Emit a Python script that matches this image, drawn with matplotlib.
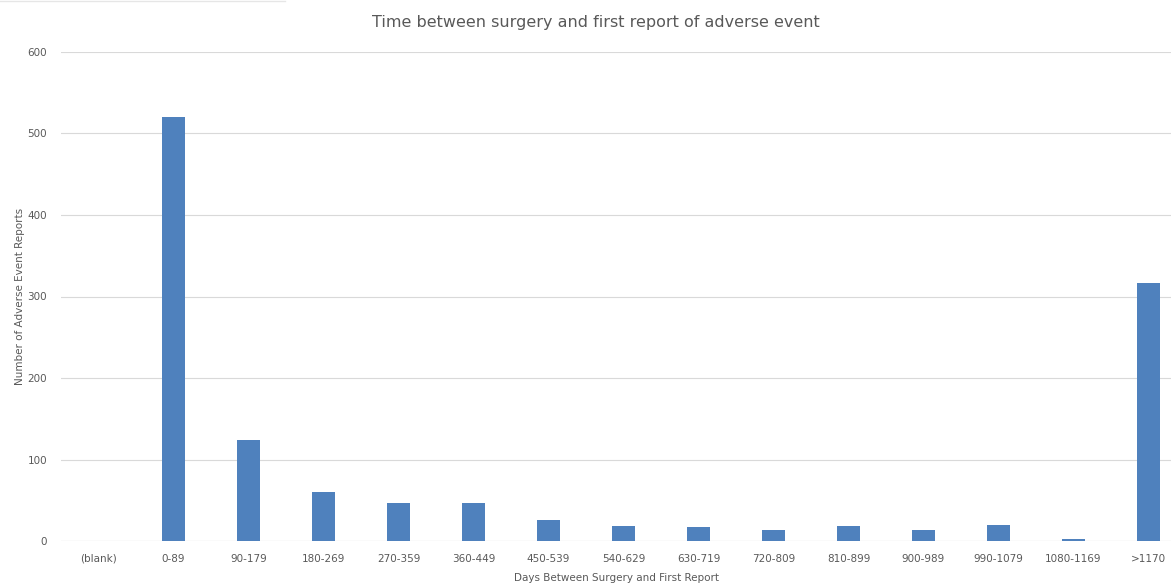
import matplotlib
matplotlib.use('Agg')

import numpy as np
import matplotlib.pyplot as plt

# data
categories = ['(blank)', '0-89', '90-179', '180-269', '270-359', '360-449',
              '450-539', '540-629', '630-719', '720-809', '810-899',
              '900-989', '990-1079', '1080-1169', '>1170']
reports = [0, 520, 124, 60, 47, 47, 26, 18, 17, 14, 18, 14, 20, 2.5, 317]
yticks = [0, 100, 200, 300, 400, 500, 600]

text_color = '#595959'
grid_color = '#d9d9d9'

plt.rc('font', family='DejaVu Sans')
fig = plt.figure(figsize=(11.71, 5.85), dpi=100, facecolor='w')
ax = fig.add_axes([61/1171, 44/585, 1110/1171, 489/585])

x = np.arange(len(categories))
ax.bar(x, reports, width=0.31, color='#4f81bd', zorder=3)

ax.set_xlim(-0.5, 14.3)
ax.set_ylim(0, 600)
ax.set_yticks(yticks)
ax.set_xticks(x)
ax.set_xticklabels(categories)
ax.yaxis.grid(True, color=grid_color, lw=0.8, zorder=0)
for s in ax.spines.values():
    s.set_visible(False)
ax.axhline(0, color=grid_color, lw=0.8, zorder=2)
ax.tick_params(axis='both', length=0, labelsize=7.5, colors=text_color)
ax.tick_params(axis='x', pad=9)
ax.tick_params(axis='y', pad=10)

ax.set_xlabel('Days Between Surgery and First Report', fontsize=7.5, color=text_color, labelpad=7)
ax.set_ylabel('Number of Adverse Event Reports', fontsize=7.5, color=text_color, labelpad=2)
fig.text(596/1171, 1 - 22/585, 'Time between surgery and first report of adverse event',
         ha='center', va='center', fontsize=11.5, color=text_color)

# thin border fragment at the top left
fig.add_artist(plt.Line2D([0, 285/1171], [0.999, 0.999], color='#e6e6e6', lw=1))

plt.savefig('out.png', dpi=100, facecolor='w')
